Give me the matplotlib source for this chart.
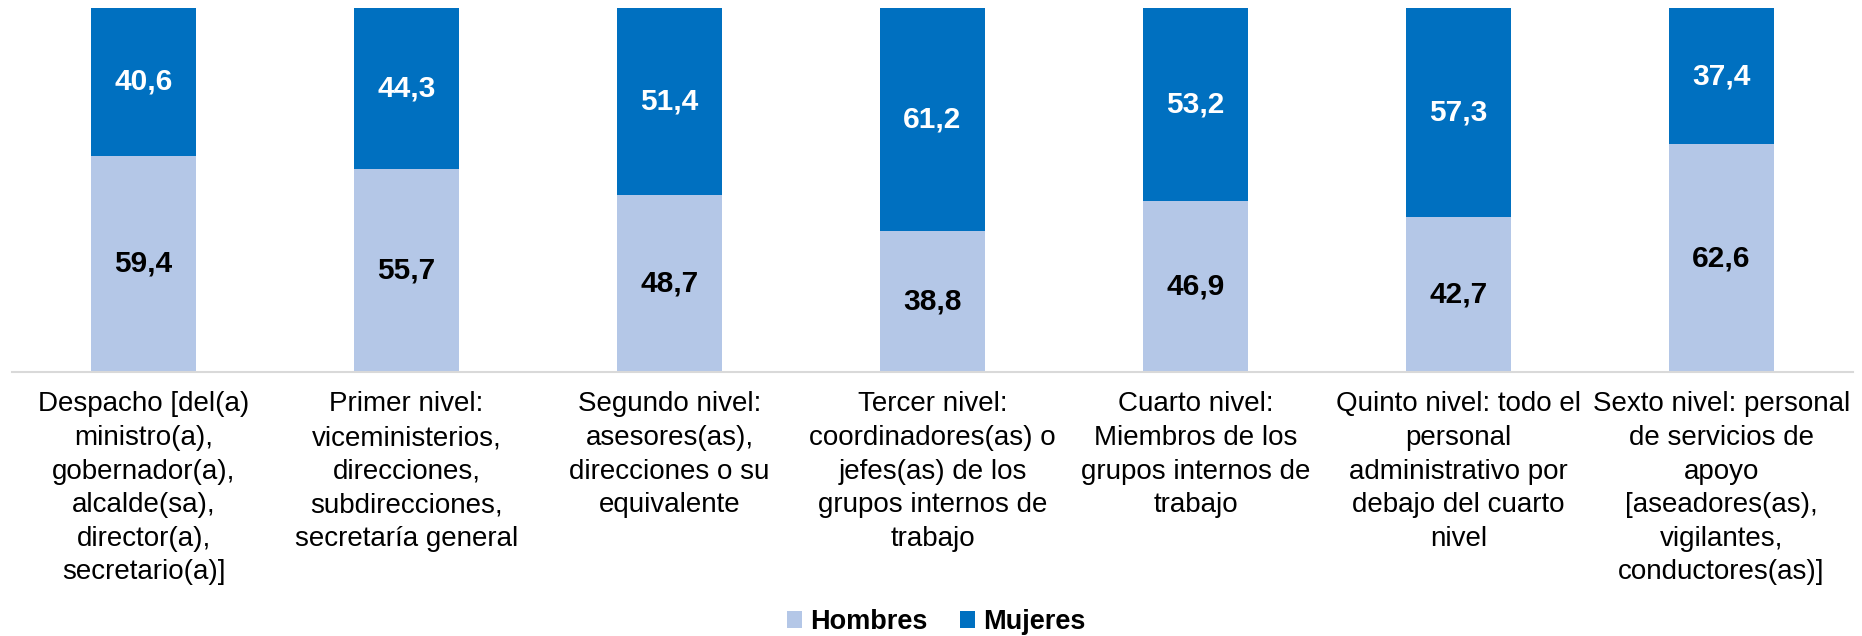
import matplotlib.pyplot as plt

plt.rcParams['font.family'] = ['Liberation Sans', 'DejaVu Sans']

categorias = [
    'Despacho [del(a)\nministro(a),\ngobernador(a),\nalcalde(sa),\ndirector(a),\nsecretario(a)]',
    'Primer nivel:\nviceministerios,\ndirecciones,\nsubdirecciones,\nsecretaría general',
    'Segundo nivel:\nasesores(as),\ndirecciones o su\nequivalente',
    'Tercer nivel:\ncoordinadores(as) o\njefes(as) de los\ngrupos internos de\ntrabajo',
    'Cuarto nivel:\nMiembros de los\ngrupos internos de\ntrabajo',
    'Quinto nivel: todo el\npersonal\nadministrativo por\ndebajo del cuarto\nnivel',
    'Sexto nivel: personal\nde servicios de\napoyo\n[aseadores(as),\nvigilantes,\nconductores(as)]',
]
hombres = [59.4, 55.7, 48.7, 38.8, 46.9, 42.7, 62.6]
mujeres = [40.6, 44.3, 51.4, 61.2, 53.2, 57.3, 37.4]

col_h = '#B4C7E7'
col_m = '#0070C0'

fig = plt.figure(figsize=(18.62, 6.36), dpi=100)
ax = fig.add_axes([12 / 1862, (636 - 372) / 636, (1853 - 12) / 1862, 364 / 636])

x = list(range(len(categorias)))
b1 = ax.bar(x, hombres, width=0.4, color=col_h, label='Hombres')
b2 = ax.bar(x, mujeres, width=0.4, bottom=hombres, color=col_m, label='Mujeres')

def fmt(v):
    return f'{v:.1f}'.replace('.', ',')

ax.bar_label(b1, labels=[fmt(v) for v in hombres], label_type='center',
             fontsize=21.5, fontweight='bold', color='black')
ax.bar_label(b2, labels=[fmt(v) for v in mujeres], label_type='center',
             fontsize=21.5, fontweight='bold', color='white')

ax.set_xlim(-0.5, 6.5)
ax.set_ylim(0, 100)
ax.set_yticks([])
ax.set_xticks(x)
ax.set_xticklabels(categorias, fontsize=20, linespacing=1.38)
ax.tick_params(axis='x', length=0, pad=14)
for s in ['top', 'right', 'left']:
    ax.spines[s].set_visible(False)
ax.spines['bottom'].set_color('#D9D9D9')
ax.spines['bottom'].set_linewidth(1.5)

fig.legend(loc='center', bbox_to_anchor=(936 / 1862, 1 - 622 / 636), ncol=2,
           frameon=False, prop={'size': 19.5, 'weight': 'bold'},
           handlelength=0.55, handleheight=0.55, handletextpad=0.3,
           columnspacing=1.2, borderpad=0)

plt.savefig('out.png', dpi=100)
